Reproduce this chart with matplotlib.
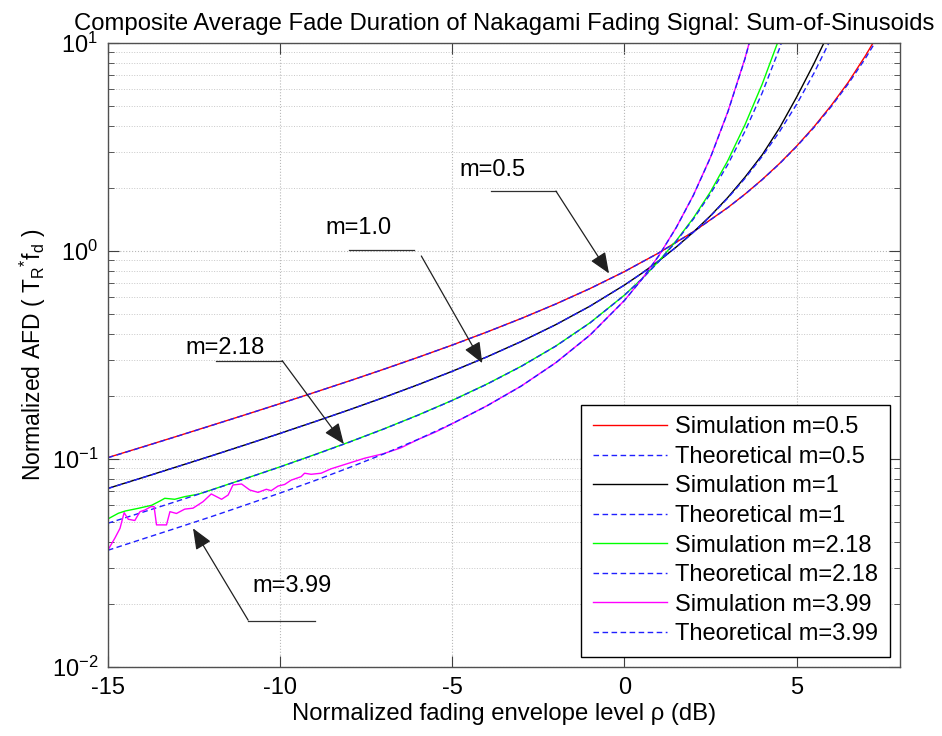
import matplotlib
matplotlib.use("Agg")
import matplotlib.pyplot as plt

plt.rcParams['font.family'] = ['Liberation Sans', 'DejaVu Sans']
plt.rcParams['mathtext.fontset'] = 'custom'
plt.rcParams['mathtext.rm'] = 'Liberation Sans'
plt.rcParams['mathtext.it'] = 'Liberation Sans'
plt.rcParams['axes.unicode_minus'] = False

# ---- data (x in dB, y = normalized AFD) ----
# theoretical curves
th_x_05 = [-15, -14, -13, -12, -11, -10, -9, -8, -7, -6, -5, -4, -3, -2, -1, 0,
           1, 2, 3, 3.5, 4, 4.5, 5, 5.5, 6, 6.5, 7, 7.5]
th_y_05 = [0.1014, 0.1140, 0.1284, 0.1447, 0.1633, 0.1845, 0.2088, 0.2369, 0.2695,
           0.3077, 0.3529, 0.4073, 0.4733, 0.5554, 0.6597, 0.7959, 0.9796, 1.2368,
           1.6150, 1.8739, 2.2021, 2.6239, 3.178, 3.919, 4.937, 6.371, 8.456, 11.56]

th_x_1 = [-15, -14, -13, -12, -11, -10, -9, -8, -7, -6, -5, -4, -3, -2, -1, 0,
          0.5, 1, 1.5, 2, 2.5, 3, 3.5, 4, 4.5, 5, 5.5, 6]
th_y_1 = [0.0721, 0.0812, 0.0916, 0.1034, 0.1170, 0.1327, 0.1509, 0.1721, 0.1972,
          0.2273, 0.2639, 0.3092, 0.3667, 0.4417, 0.5428, 0.6855, 0.7800, 0.8966,
          1.0427, 1.2293, 1.4719, 1.7947, 2.2348, 2.852, 3.7425, 5.075, 7.148, 10.51]

th_x_218 = [-15, -14, -13, -12, -11, -10, -9, -8, -7, -6, -5, -4, -3, -2, -1, 0,
            0.5, 1, 1.5, 2, 2.5, 3, 3.5, 4, 4.5, 5]
th_y_218 = [0.0491, 0.0554, 0.0626, 0.0709, 0.0805, 0.0916, 0.1047, 0.1203, 0.1391,
            0.1622, 0.1911, 0.2286, 0.2786, 0.3483, 0.4511, 0.6129, 0.7316, 0.8908,
            1.1105, 1.4238, 1.8877, 2.6046, 3.7671, 5.7607, 9.403, 16.49]

th_x_399 = [-15, -14, -13, -12, -11, -10, -9, -8, -7, -6, -5, -4, -3, -2, -1, 0,
            0.5, 1, 1.5, 2, 2.5, 3, 3.5, 4]
th_y_399 = [0.0364, 0.0412, 0.0466, 0.0528, 0.0601, 0.0686, 0.0786, 0.0908, 0.1056,
            0.1241, 0.1480, 0.1798, 0.2240, 0.2897, 0.3942, 0.5785, 0.7293, 0.9502,
            1.293, 1.8505, 2.8232, 4.651, 8.40, 16.93]

# simulated curves
sim_x_05 = [-15, -14, -13, -12, -11, -10, -9, -8, -7, -6, -5, -4, -3, -2, -1, 0,
            1, 2, 3, 3.5, 4, 4.5, 5, 5.5, 6, 6.5, 7, 7.5]
sim_y_05 = [0.1016, 0.1142, 0.1285, 0.1449, 0.1634, 0.1846, 0.2090, 0.2370, 0.2697,
            0.3079, 0.3531, 0.4075, 0.4736, 0.5557, 0.6600, 0.7965, 0.9800, 1.2375,
            1.6170, 1.8770, 2.2070, 2.6320, 3.195, 3.950, 5.000, 6.480, 8.700, 12.00]

sim_x_1 = [-15, -14, -13, -12, -11, -10, -9, -8, -7, -6, -5, -4, -3, -2, -1, 0,
           0.5, 1, 1.5, 2, 2.5, 3, 3.5, 4, 4.5, 5, 5.5, 6]
sim_y_1 = [0.0722, 0.0813, 0.0917, 0.1035, 0.1171, 0.1328, 0.1510, 0.1722, 0.1973,
           0.2274, 0.2641, 0.3094, 0.3670, 0.4420, 0.5432, 0.6860, 0.7805, 0.8975,
           1.0440, 1.2320, 1.4780, 1.8080, 2.2650, 2.900, 3.900, 5.500, 7.950, 11.80]

sim_x_218 = [-15, -14.7, -14.5, -14.12, -13.73, -13.49, -13.35, -13.06, -12.77, -12.38,
             -12, -11, -10, -9, -8, -7, -6, -5, -4, -3, -2, -1, 0,
             0.5, 1, 1.5, 2, 2.5, 3, 3.5, 4, 4.5]
sim_y_218 = [0.0515, 0.0548, 0.0562, 0.0579, 0.0599, 0.0628, 0.0647, 0.0640, 0.0659,
             0.0677, 0.0710, 0.0806, 0.0917, 0.1049, 0.1205, 0.1393, 0.1625, 0.1914,
             0.2290, 0.2790, 0.3488, 0.4518, 0.6140, 0.7335, 0.8950, 1.1200, 1.4400,
             1.9300, 2.7200, 4.0500, 6.3500, 10.60]

sim_x_399 = [-15, -14.8, -14.65, -14.53, -14.41, -14.22, -14.07, -13.93, -13.75,
             -13.66, -13.59, -13.30, -13.20, -13.01, -12.77, -12.53, -12.24, -12.0,
             -11.70, -11.51, -11.37, -11.12, -10.88, -10.64, -10.40, -10.26, -10.06,
             -9.87, -9.68, -9.39, -9.29, -9.10, -8.81, -8.52, -8.13, -7.55, -7.0,
             -6.5, -6.0, -5.5, -5.0, -4, -3, -2, -1, 0, 0.5, 1, 1.5, 2, 2.5, 3, 3.5, 4]
sim_y_399 = [0.0365, 0.0416, 0.0464, 0.0552, 0.0513, 0.0506, 0.0558, 0.0568, 0.0590,
             0.0590, 0.0482, 0.0482, 0.0558, 0.0547, 0.0574, 0.0580, 0.0623, 0.0679,
             0.0640, 0.0671, 0.0750, 0.0758, 0.0709, 0.0691, 0.0715, 0.0704, 0.0741,
             0.0754, 0.0791, 0.0822, 0.0854, 0.0844, 0.0854, 0.0897, 0.0940, 0.1008,
             0.1060, 0.1130, 0.1240, 0.1345, 0.1478, 0.1800, 0.2242, 0.2900, 0.3946,
             0.5790, 0.7300, 0.9510, 1.295, 1.855, 2.830, 4.670, 8.45, 17.0]

labels = ['Simulation m=0.5', 'Theoretical m=0.5', 'Simulation m=1', 'Theoretical m=1',
          'Simulation m=2.18', 'Theoretical m=2.18', 'Simulation m=3.99', 'Theoretical m=3.99']

sim_colors = ['#ff0000', '#000000', '#00ff00', '#ff00ff']
th_color = '#2020ff'

fig = plt.figure(figsize=(9.42, 7.36), dpi=100)
ax = fig.add_axes([0.1146, 0.0938, 0.8408, 0.8478])

series = [(sim_x_05, sim_y_05, th_x_05, th_y_05),
          (sim_x_1, sim_y_1, th_x_1, th_y_1),
          (sim_x_218, sim_y_218, th_x_218, th_y_218),
          (sim_x_399, sim_y_399, th_x_399, th_y_399)]
for i, (sx, sy, tx, ty) in enumerate(series):
    ax.plot(sx, sy, color=sim_colors[i], lw=1.0, label=labels[2*i])
    ax.plot(tx, ty, color=th_color, lw=1.0, ls=(0, (4, 2.5)), label=labels[2*i+1])

ax.set_yscale('log')
ax.set_xlim(-15, 8)
ax.set_ylim(0.01, 10)
ax.set_xticks([-15, -10, -5, 0, 5])

ax.grid(True, which='major', ls=':', color='#b8b8b8', lw=0.8)
ax.grid(True, which='minor', axis='y', ls=':', color='#c8c8c8', lw=0.7)
ax.set_axisbelow(True)

ax.tick_params(which='both', direction='in', top=True, right=True, labelsize=17,
               colors='#404040', labelcolor='black', pad=7)
ax.tick_params(which='major', length=8)
ax.tick_params(which='minor', length=4)
for s in ax.spines.values():
    s.set_color('#505050')
    s.set_linewidth(1.0)

ax.set_title('Composite Average Fade Duration of Nakagami Fading Signal: Sum-of-Sinusoids',
             fontsize=17.2, pad=9)
ax.set_xlabel('Normalized fading envelope level ρ (dB)', fontsize=17.2, labelpad=3)
ax.set_ylabel(r'Normalized AFD ( T$_{\mathrm{R}}$$^{*}$f$_{\mathrm{d}}$ )', fontsize=16.5,
              labelpad=3)

leg = ax.legend(loc='lower right', fontsize=17, frameon=True, fancybox=False,
                edgecolor='black', framealpha=1, handlelength=3.15, labelspacing=0.32,
                borderaxespad=0.42, borderpad=0.5, handletextpad=0.35)
leg.get_frame().set_linewidth(1.0)

# text arrows: label, text pos, underline x-range & y, tail, tip
notes = [('m=0.5', (-3.84, 2.45), (-3.87, -1.99), 1.94, (-1.99, 1.94), (-0.45, 0.78)),
         ('m=1.0', (-7.72, 1.29), (-7.99, -6.10), 1.01, (-5.90, 0.946), (-4.13, 0.289)),
         ('m=2.18', (-11.61, 0.342), (-11.85, -9.94), 0.297, (-9.94, 0.297), (-8.15, 0.118)),
         ('m=3.99', (-9.64, 0.0245), (-10.93, -9.0), 0.0166, (-10.93, 0.0168), (-12.53, 0.0464))]
for txt, tpos, (ux0, ux1), uy, tail, tip in notes:
    ax.text(tpos[0], tpos[1], txt, fontsize=17, ha='center', va='center')
    ax.plot([ux0, ux1], [uy, uy], color='#303030', lw=0.9)
    ax.annotate('', xy=tip, xytext=tail,
                arrowprops=dict(arrowstyle='-|>,head_length=0.8,head_width=0.33',
                                mutation_scale=16, color='#202020', lw=0.9,
                                shrinkA=0, shrinkB=0))

fig.savefig('out.png', dpi=100)
